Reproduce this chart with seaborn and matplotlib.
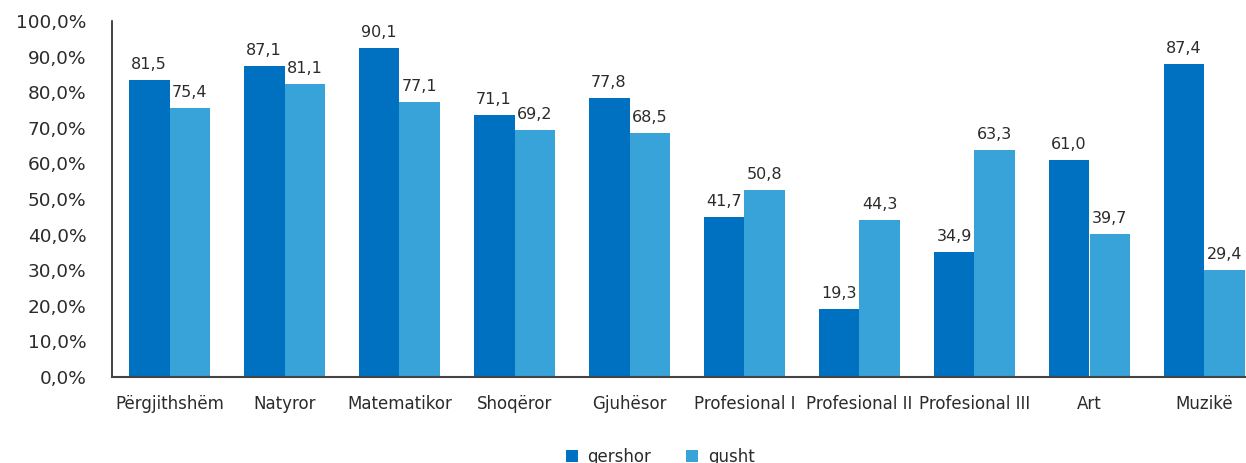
import matplotlib
matplotlib.use("Agg")
import matplotlib.pyplot as plt
import seaborn as sns
import pandas as pd

categories = ["Përgjithshëm", "Natyror", "Matematikor", "Shoqëror", "Gjuhësor",
              "Profesional I", "Profesional II", "Profesional III", "Art", "Muzikë"]
series_names = ["qershor", "gusht"]
# bar heights as drawn (fraction)
qershor_heights = [0.834, 0.874, 0.924, 0.736, 0.784, 0.449, 0.191, 0.351, 0.610, 0.879]
gusht_heights = [0.756, 0.823, 0.772, 0.694, 0.685, 0.525, 0.441, 0.638, 0.402, 0.301]
# printed data labels
qershor_labels = ["81,5", "87,1", "90,1", "71,1", "77,8", "41,7", "19,3", "34,9", "61,0", "87,4"]
gusht_labels = ["75,4", "81,1", "77,1", "69,2", "68,5", "50,8", "44,3", "63,3", "39,7", "29,4"]
y_ticks = [0.0, 0.1, 0.2, 0.3, 0.4, 0.5, 0.6, 0.7, 0.8, 0.9, 1.0]
y_tick_labels = ["0,0%", "10,0%", "20,0%", "30,0%", "40,0%", "50,0%",
                 "60,0%", "70,0%", "80,0%", "90,0%", "100,0%"]
colors = ["#0070C0", "#38A3D8"]

df = pd.DataFrame({
    "category": categories * 2,
    "value": qershor_heights + gusht_heights,
    "period": [series_names[0]] * len(categories) + [series_names[1]] * len(categories),
})

sns.set_style("white")
plt.rcParams["font.family"] = ["DejaVu Sans"]
text_color = "#2b2b2b"

W, H = 1246, 463
fig = plt.figure(figsize=(W / 100, H / 100), dpi=100)
left, right, top, bottom = 112, 1262, 21, 377
ax = fig.add_axes([left / W, 1 - bottom / H, (right - left) / W, (bottom - top) / H])

sns.barplot(data=df, x="category", y="value", hue="period", palette=colors,
            saturation=1, width=0.713, ax=ax, legend=True, linewidth=0)

for cont, labs in zip(ax.containers, [qershor_labels, gusht_labels]):
    ax.bar_label(cont, labels=labs, padding=6, fontsize=11.5, color=text_color)

ax.set_xlim(-0.5, len(categories) - 0.5)
ax.set_ylim(0, 1.0)
ax.set_yticks(y_ticks)
ax.set_yticklabels(y_tick_labels)
ax.set_xlabel("")
ax.set_ylabel("")
ax.tick_params(axis="both", length=0, colors=text_color)
ax.tick_params(axis="x", pad=13, labelsize=12)
ax.tick_params(axis="y", pad=18.5, labelsize=13.3)
for s in ["top", "right"]:
    ax.spines[s].set_visible(False)
ax.spines["left"].set_color("#222222")
ax.spines["left"].set_linewidth(1.2)
ax.spines["bottom"].set_color("#444444")
ax.spines["bottom"].set_linewidth(1.5)

handles, labels = ax.get_legend_handles_labels()
ax.get_legend().remove()
fig.legend(handles, labels, loc="center", bbox_to_anchor=(0.530, 1 - 457 / H),
           ncol=2, frameon=False, fontsize=12, handlelength=0.7, handleheight=0.7,
           columnspacing=2.1, handletextpad=0.6, labelcolor=text_color)

fig.savefig("out.png", dpi=100)
